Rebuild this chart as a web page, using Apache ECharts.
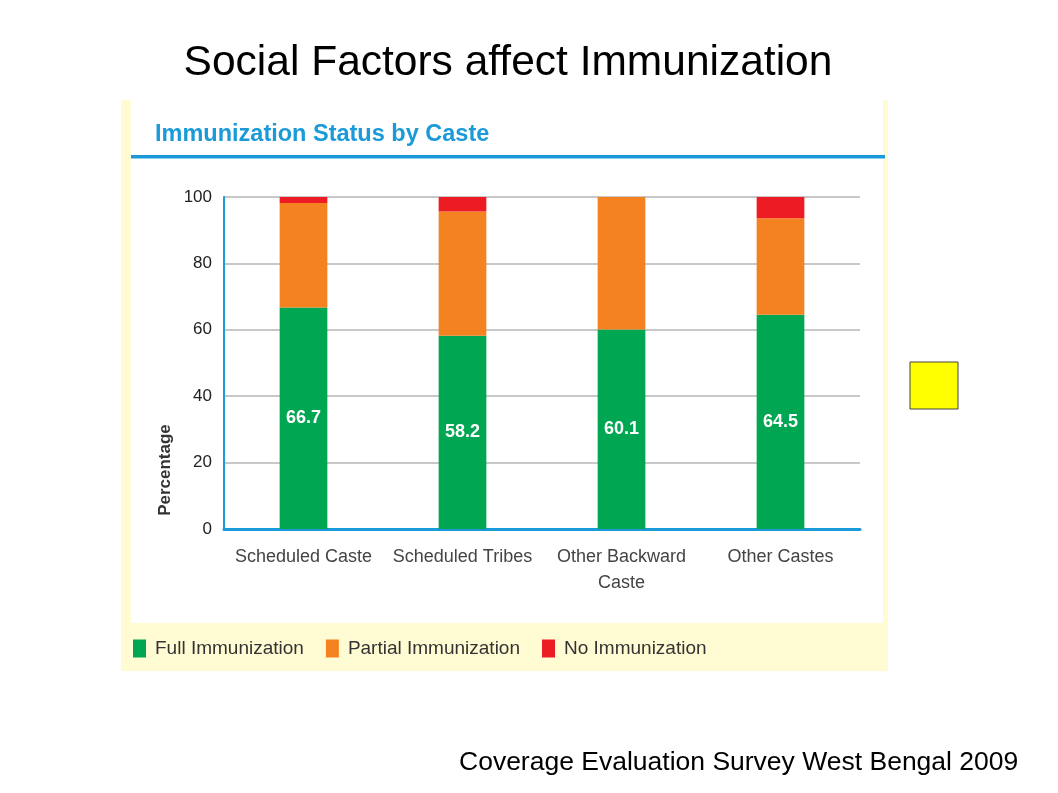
<!DOCTYPE html>
<html>
<head>
    <meta charset="UTF-8">
    <title>Social Factors affect Immunization</title>
    <script src="https://cdn.jsdelivr.net/npm/echarts@6/dist/echarts.min.js"></script>
    <style>
        html, body { margin: 0; padding: 0; background: #fff; }
        #chart { width: 1058px; height: 793px; }
    </style>
</head>
<body>
<div id="chart"></div>
<script>
    // data
    var categories = ['Scheduled Caste', 'Scheduled Tribes', 'Other Backward\nCaste', 'Other Castes'];
    var fullImm = [66.7, 58.2, 60.1, 64.5];
    var partialImm = [31.5, 37.4, 39.9, 29.1];
    var noImm = [1.8, 4.4, 0, 6.4];
    var yTicks = [0, 20, 40, 60, 80, 100];

    var font = 'Liberation Sans, Arial, sans-serif';
    var myChart = echarts.init(document.getElementById('chart'));

    var option = {
        backgroundColor: '#ffffff',
        animation: false,
        title: [
            {
                text: 'Social Factors affect Immunization',
                left: 503, top: 37, textAlign: 'center',
                textStyle: { fontFamily: font, fontSize: 42.5, fontWeight: 'normal', color: '#000' }
            },
            {
                text: 'Immunization Status by Caste',
                left: 150, top: 118,
                textStyle: { fontFamily: font, fontSize: 23.5, fontWeight: 'bold', color: '#1a9ad8' }
            },
            {
                text: 'Coverage Evaluation Survey West Bengal 2009',
                left: 454, top: 744,
                textStyle: { fontFamily: font, fontSize: 26.5, fontWeight: 'normal', color: '#000' }
            }
        ],
        graphic: [
            // panel background
            { type: 'rect', z: -10, shape: { x: 121, y: 100, width: 767, height: 571 }, style: { fill: '#fffbd2' } },
            { type: 'rect', z: -9, shape: { x: 131, y: 100, width: 752, height: 523 }, style: { fill: '#ffffff' } },
            { type: 'rect', z: -8, shape: { x: 131, y: 155, width: 754, height: 3.5 }, style: { fill: '#1a9ad8' } },
            // axis title
            {
                type: 'text', rotation: Math.PI / 2, x: 165, y: 470,
                style: { text: 'Percentage', fontFamily: font, fontSize: 17, fontWeight: 'bold', fill: '#333', align: 'center', verticalAlign: 'middle' }
            },
            // yellow square
            { type: 'rect', shape: { x: 910, y: 362, width: 48, height: 47 }, style: { fill: '#ffff00', stroke: '#444', lineWidth: 1 } }
        ],
        legend: {
            left: 128, top: 634, itemGap: 22, itemWidth: 13, itemHeight: 18,
            icon: 'rect',
            textStyle: { fontFamily: font, fontSize: 19, color: '#333', padding: [0, 0, 0, 4] },
            data: ['Full Immunization', 'Partial Immunization', 'No Immunization']
        },
        grid: { left: 224, right: 198, top: 197, bottom: 264 },
        xAxis: {
            type: 'category',
            data: categories,
            axisLine: { lineStyle: { color: '#1a9ad8', width: 3 } },
            axisTick: { show: false },
            axisLabel: { fontFamily: font, fontSize: 18, color: '#444', margin: 15, lineHeight: 26, interval: 0 }
        },
        yAxis: {
            type: 'value',
            min: yTicks[0], max: yTicks[yTicks.length - 1], interval: 20,
            axisLine: { show: true, lineStyle: { color: '#1a9ad8', width: 2 } },
            axisTick: { show: false },
            axisLabel: { fontFamily: font, fontSize: 17, color: '#222', margin: 12 },
            splitLine: { lineStyle: { color: '#c8c8c8', width: 2 } }
        },
        series: [
            {
                name: 'Full Immunization', type: 'bar', stack: 'all', barWidth: '30%',
                itemStyle: { color: '#00a651' },
                label: { show: true, position: 'inside', color: '#fff', fontFamily: font, fontSize: 18, fontWeight: 'bold' },
                data: fullImm
            },
            {
                name: 'Partial Immunization', type: 'bar', stack: 'all',
                itemStyle: { color: '#f58220' },
                data: partialImm
            },
            {
                name: 'No Immunization', type: 'bar', stack: 'all',
                itemStyle: { color: '#ed1c24' },
                data: noImm
            }
        ]
    };
    myChart.setOption(option);
</script>
</body>
</html>
